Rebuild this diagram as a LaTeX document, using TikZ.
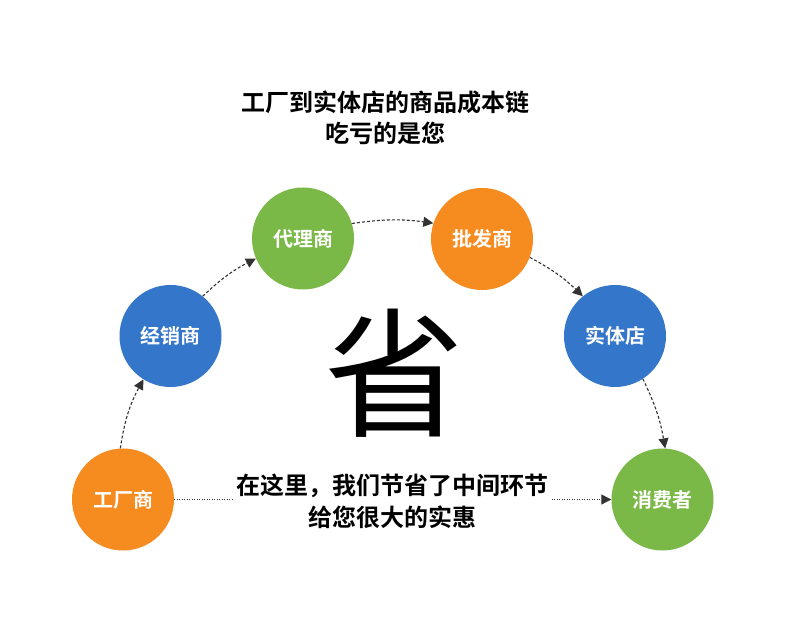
\documentclass[tikz,border=0pt]{standalone}
\usepackage{fontspec}
\setmainfont{Noto Sans CJK SC}
\newfontfamily\cjkb{Noto Sans CJK SC Bold}
\usetikzlibrary{arrows.meta}
\definecolor{corange}{HTML}{F68B20}
\definecolor{cblue}{HTML}{3476C9}
\definecolor{cgreen}{HTML}{7AB847}
\definecolor{cline}{HTML}{333333}
\tikzset{
  stage/.style={circle, minimum size=102pt, inner sep=0pt, text=white,
    font=\cjkb\fontsize{20}{20}\selectfont},
  flow/.style={draw=cline, line width=1.1pt, dash pattern=on 3pt off 2pt,
    -{Triangle[length=10pt,width=10pt]}},
  direct/.style={draw=cline, line width=1.1pt, dash pattern=on 1pt off 1.5pt,
    -{Triangle[length=10pt,width=10pt]}},
  caption/.style={align=center, text=black}
}
\begin{document}
\begin{tikzpicture}[x=1pt,y=1pt]
\useasboundingbox (0,0) rectangle (790,635);
\fill[white] (0,0) rectangle (790,635);

\node[stage, fill=corange] (f) at (123,135.5) {工厂商};
\node[stage, fill=cblue]   (j) at (170.5,299) {经销商};
\node[stage, fill=cgreen]  (d) at (303,396.5) {代理商};
\node[stage, fill=corange] (p) at (482,396) {批发商};
\node[stage, fill=cblue]   (s) at (615,299) {实体店};
\node[stage, fill=cgreen]  (c) at (662.5,135.5) {消费者};

\node[caption, font=\cjkb\fontsize{24}{31}\selectfont] (title) at (385,517.5)
  {工厂到实体店的商品成本链\\吃亏的是您};

\node[font=\fontsize{140}{140}\selectfont] (big) at (394.5,262) {省};

\draw[flow] (f.93) to[bend left=10] (j.238);
\draw[flow] (j.51) to[bend left=8] (d.203);
\draw[flow] (d.17) to[bend left=8] (p.162);
\draw[flow] (p.-21) to[bend left=8] (s.129);
\draw[flow] (s.-57) to[bend left=8] (c.87);
\draw[direct] (f.east) -- (c.west);

\node[caption, fill=white, inner sep=2pt, font=\cjkb\fontsize{24}{32}\selectfont] (msg) at (392,133.5)
  {在这里，我们节省了中间环节\\给您很大的实惠};
\end{tikzpicture}
\end{document}
